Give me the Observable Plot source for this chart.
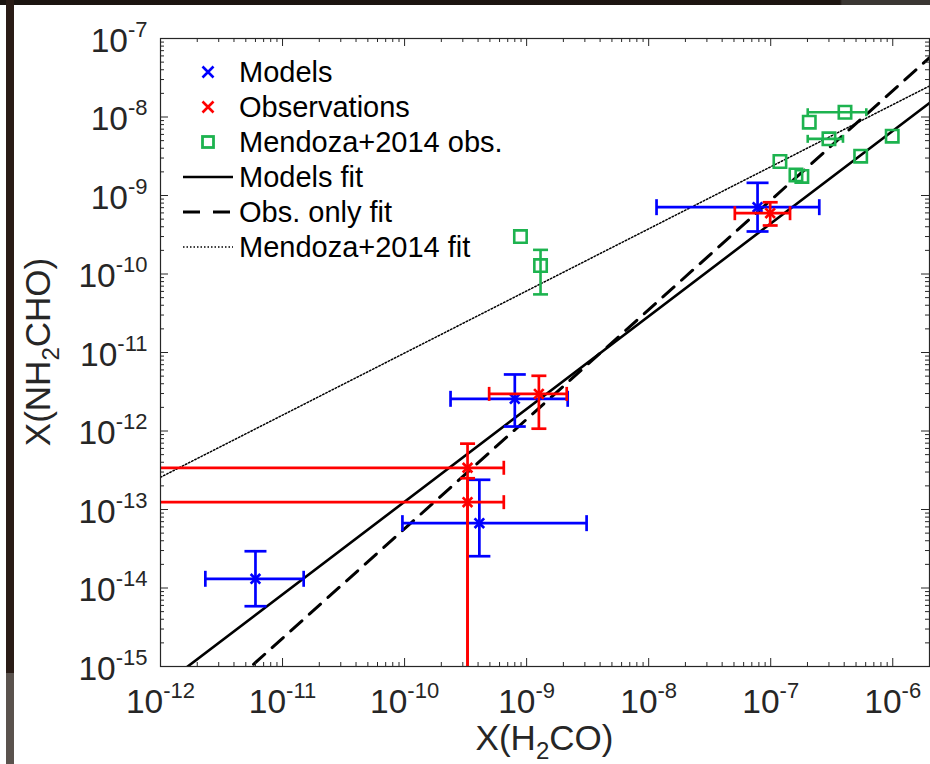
<!DOCTYPE html>
<html>
<head>
<meta charset="utf-8">
<script src="https://cdn.jsdelivr.net/npm/d3@7"></script>
<script src="https://cdn.jsdelivr.net/npm/@observablehq/plot@0.6"></script>
<style>
  body { margin: 0; background: #fff; }
  #wrap { position: relative; width: 930px; height: 764px; overflow: hidden; background: #fff; }
  #wrap svg { position: absolute; left: 0; top: 0; }
  .band-top { position: absolute; left: 0; top: 0; width: 930px; height: 5px;
    background: linear-gradient(90deg, #1b1410 0, #1d1511 840px, #3b3733 842px, #3b3733 930px); z-index: 2; }
  .band-left { position: absolute; left: 6px; top: 0; width: 8px; height: 764px;
    background: linear-gradient(#2a1c16 0, #2a1c16 673px, #5a524d 673px, #5a524d 764px); z-index: 2; }
</style>
</head>
<body>
<div id="wrap"><div class="band-top"></div><div class="band-left"></div></div>
<script>
// Chemical models: X(H2CO) and X(NH2CHO) with error ranges
const modelX   = [6.0e-12, 4.1e-10, 8.0e-10, 7.8e-8];
const modelXLo = [2.33e-12, 9.6e-11, 2.38e-10, 1.16e-8];
const modelXHi = [1.49e-11, 3.1e-9, 2.17e-9, 2.5e-7];
const modelY   = [1.31e-14, 6.7e-14, 2.57e-12, 7.1e-10];
const modelYLo = [5.86e-15, 2.54e-14, 1.14e-12, 3.48e-10];
const modelYHi = [2.94e-14, 2.39e-13, 5.25e-12, 1.45e-9];

// Observed sources (first two only have upper limits on the low side)
const obsX   = [3.28e-10, 3.28e-10, 1.26e-9, 9.9e-8];
const obsXLo = [1e-13, 1e-13, 4.93e-10, 5.08e-8];
const obsXHi = [6.5e-10, 6.5e-10, 2.13e-9, 1.44e-7];
const obsY   = [3.4e-13, 1.24e-13, 2.97e-12, 5.95e-10];
const obsYLo = [1e-17, 1e-17, 1.07e-12, 4.15e-10];
const obsYHi = [6.9e-13, 2.5e-13, 5.05e-12, 8.2e-10];

// Mendoza et al. (2014) sample
const mendozaX   = [8.9e-10, 1.30e-9, 1.19e-7, 1.61e-7, 1.80e-7, 2.07e-7, 4.06e-7, 3.0e-7, 5.46e-7, 9.9e-7];
const mendozaY   = [3.0e-10, 1.28e-10, 2.71e-9, 1.83e-9, 1.75e-9, 8.6e-9, 1.15e-8, 5.27e-9, 3.17e-9, 5.7e-9];
const mendozaXLo = [null, null, null, null, null, null, 2.01e-7, 2.01e-7, null, null];
const mendozaXHi = [null, null, null, null, null, null, 6.07e-7, 3.91e-7, null, null];
const mendozaYLo = [null, 5.5e-11, null, null, null, null, null, null, null, null];
const mendozaYHi = [null, 2.03e-10, null, null, null, null, null, null, null, null];

// Power-law fits: log10 y = slope * log10 x + intercept
const fitNames      = ["Models fit", "Obs. only fit", "Mendoza+2014 fit"];
const fitSlopes     = [1.181, 1.395, 0.791];
const fitIntercepts = [-1.091, 0.705, -3.097];

const seriesNames = ["Models", "Observations", "Mendoza+2014 obs."];

// Axis ticks (decade exponents)
const xTickExps = [-12, -11, -10, -9, -8, -7, -6];
const yTickExps = [-15, -14, -13, -12, -11, -10, -9, -8, -7];

const xDomain = [1e-12, 2e-6];
const yDomain = [1e-15, 1e-7];

const W = 930, H = 764;
const mL = 160, mT = 38, mR = 1, mB = 98;
const frameW = W - mL - mR, frameH = H - mT - mB;

const BLUE = "#0000ff", RED = "#ff0000", GREEN = "#1db34f", INK = "#262626";
const DOTS = "1.5,2";

const rows = (xs, ys, xlo, xhi, ylo, yhi) =>
  xs.map((x, i) => ({x, y: ys[i], xlo: xlo[i], xhi: xhi[i], ylo: ylo[i], yhi: yhi[i]}));
const models = rows(modelX, modelY, modelXLo, modelXHi, modelYLo, modelYHi);
const obs = rows(obsX, obsY, obsXLo, obsXHi, obsYLo, obsYHi);
const mendoza = rows(mendozaX, mendozaY, mendozaXLo, mendozaXHi, mendozaYLo, mendozaYHi);

const fitLines = fitNames.flatMap((name, i) =>
  xDomain.map(x => ({fit: name, x, y: 10 ** (fitSlopes[i] * Math.log10(x) + fitIntercepts[i])})));

// Minor ticks: 2..9 within each decade
const minorTicks = (exps, domain) => exps.flatMap(e => d3.range(2, 10).map(k => k * 10 ** e))
  .filter(v => v > domain[0] && v < domain[1] * 0.999);
const xMajor = xTickExps.map(e => 10 ** e);
const yMajor = yTickExps.map(e => 10 ** e);
const xMinor = minorTicks(xTickExps, xDomain);
const yMinor = minorTicks(yTickExps, yDomain);

// Line-shaped symbols for error-bar caps and markers
const symRadius = size => Math.sqrt(size / Math.PI);
const hBar = {draw(ctx, size) { const r = symRadius(size); ctx.moveTo(-r, 0); ctx.lineTo(r, 0); }};
const vBar = {draw(ctx, size) { const r = symRadius(size); ctx.moveTo(0, -r); ctx.lineTo(0, r); }};
const cross = {draw(ctx, size) { const r = symRadius(size);
  ctx.moveTo(-r, -r); ctx.lineTo(r, r); ctx.moveTo(-r, r); ctx.lineTo(r, -r); }};
const box = {draw(ctx, size) { const r = symRadius(size); ctx.rect(-r, -r, 2 * r, 2 * r); }};

function errorMarks(data, color, sw, capV, capH, marker, markerR) {
  const common = {stroke: color, strokeWidth: sw, clip: true};
  return [
    Plot.link(data, {x1: "xlo", x2: "xhi", y1: "y", y2: "y", ...common}),
    Plot.link(data, {x1: "x", x2: "x", y1: "ylo", y2: "yhi", ...common}),
    Plot.dot(data, {x: "xlo", y: "y", symbol: vBar, r: capH, fill: "none", ...common}),
    Plot.dot(data, {x: "xhi", y: "y", symbol: vBar, r: capH, fill: "none", ...common}),
    Plot.dot(data, {x: "x", y: "ylo", symbol: hBar, r: capV, fill: "none", ...common}),
    Plot.dot(data, {x: "x", y: "yhi", symbol: hBar, r: capV, fill: "none", ...common}),
    Plot.dot(data, {x: "x", y: "y", symbol: marker, r: markerR, fill: "none", ...common})
  ];
}

const chart = Plot.plot({
  width: W, height: H,
  marginLeft: mL, marginTop: mT, marginRight: mR, marginBottom: mB,
  x: {type: "log", domain: xDomain, axis: null},
  y: {type: "log", domain: yDomain, axis: null},
  style: {fontFamily: "'Liberation Sans', Arial, Helvetica, sans-serif", background: "white", color: INK, overflow: "visible"},
  marks: [
    // fits
    Plot.line(fitLines.filter(d => d.fit === fitNames[2]), {x: "x", y: "y", stroke: "#000", strokeWidth: 1.5, strokeDasharray: DOTS, clip: true}),
    Plot.line(fitLines.filter(d => d.fit === fitNames[0]), {x: "x", y: "y", stroke: "#000", strokeWidth: 2.6, clip: true}),
    Plot.line(fitLines.filter(d => d.fit === fitNames[1]), {x: "x", y: "y", stroke: "#000", strokeWidth: 3, strokeDasharray: "15,10", clip: true}),
    // data with error bars
    ...errorMarks(models, BLUE, 2.7, 11, 8, cross, 4.8),
    ...errorMarks(obs, RED, 2.7, 7.5, 7, cross, 4.8),
    ...errorMarks(mendoza, GREEN, 2.6, 7.5, 4, box, 6.2),
    // box with inward ticks on all sides
    Plot.frame({stroke: INK, strokeWidth: 1.2}),
    Plot.tickX(xMajor, {x: d => d, insetTop: frameH - 8, stroke: INK}),
    Plot.tickX(xMinor, {x: d => d, insetTop: frameH - 4, stroke: INK}),
    Plot.tickX(xMajor, {x: d => d, insetBottom: frameH - 8, stroke: INK}),
    Plot.tickX(xMinor, {x: d => d, insetBottom: frameH - 4, stroke: INK}),
    Plot.tickY(yMajor, {y: d => d, insetRight: frameW - 8, stroke: INK}),
    Plot.tickY(yMinor, {y: d => d, insetRight: frameW - 4, stroke: INK}),
    Plot.tickY(yMajor, {y: d => d, insetLeft: frameW - 8, stroke: INK}),
    Plot.tickY(yMinor, {y: d => d, insetLeft: frameW - 4, stroke: INK}),
    // tick labels
    Plot.text(xTickExps, {x: e => 10 ** e, text: e => `10^${e}`, frameAnchor: "bottom", lineAnchor: "bottom",
      dy: 46, textAnchor: "middle", fontSize: 33.5, fill: INK}),
    Plot.text(yTickExps, {y: e => 10 ** e, text: e => `10^${e}`, frameAnchor: "left", lineAnchor: "bottom",
      dx: -13, dy: 13, textAnchor: "end", fontSize: 33.5, fill: INK})
  ]
});

const svg = d3.select(chart);
const NS = "http://www.w3.org/2000/svg";

// Exponent formatting for decade labels ("10^e" -> 10 with a raised exponent)
Array.from(chart.querySelectorAll("text")).filter(t => t.textContent.includes("^")).forEach(t => {
  const [base, exp] = t.textContent.split("^");
  while (t.firstChild) t.removeChild(t.firstChild);
  const a = document.createElementNS(NS, "tspan");
  a.textContent = base;
  const b = document.createElementNS(NS, "tspan");
  b.textContent = exp;
  b.setAttribute("font-size", 22);
  b.setAttribute("dy", -15);
  t.append(a, b);
});

// Axis titles with subscripts
function title(g, parts) {
  const t = g.append("text").attr("font-size", 35).attr("fill", INK).attr("text-anchor", "middle");
  parts.forEach(([s, sub], i) => {
    const ts = t.append("tspan").text(s);
    if (sub) ts.attr("font-size", 24).attr("dy", 9);
    else if (i > 0) ts.attr("dy", -9);
  });
  return t;
}
title(svg.append("g").attr("transform", `translate(${mL + frameW / 2},750)`),
  [["X(H"], ["2", true], ["CO)"]]);
title(svg.append("g").attr("transform", `translate(50,${mT + frameH / 2}) rotate(-90)`),
  [["X(NH"], ["2", true], ["CHO)"]]);

// Legend (inside the axes, top-left)
const lg = svg.append("g").attr("transform", `translate(${mL},${mT})`)
  .attr("font-size", 29).attr("fill", "#000").attr("text-anchor", "start");
const legendRows = [
  {label: seriesNames[0], type: "cross", color: BLUE},
  {label: seriesNames[1], type: "cross", color: RED},
  {label: seriesNames[2], type: "box", color: GREEN},
  {label: fitNames[0], type: "line", width: 2.6, dash: null},
  {label: fitNames[1], type: "line", width: 3, dash: "17,13"},
  {label: fitNames[2], type: "line", width: 1.5, dash: DOTS}
];
legendRows.forEach((d, i) => {
  const cy = 34 + 35 * i;
  if (d.type === "cross") {
    const r = 5.5;
    lg.append("path").attr("d", `M${48 - r},${cy - r}L${48 + r},${cy + r}M${48 - r},${cy + r}L${48 + r},${cy - r}`)
      .attr("stroke", d.color).attr("stroke-width", 2.6).attr("fill", "none");
  } else if (d.type === "box") {
    lg.append("rect").attr("x", 48 - 5.5).attr("y", cy - 5.5).attr("width", 11).attr("height", 11)
      .attr("stroke", d.color).attr("stroke-width", 2.8).attr("fill", "none");
  } else {
    lg.append("line").attr("x1", 23).attr("x2", 73).attr("y1", cy).attr("y2", cy)
      .attr("stroke", "#000").attr("stroke-width", d.width).attr("stroke-dasharray", d.dash);
  }
  lg.append("text").attr("x", 79).attr("y", cy + 10).attr("text-anchor", "start").text(d.label);
});

document.getElementById("wrap").prepend(chart);
</script>
</body>
</html>
